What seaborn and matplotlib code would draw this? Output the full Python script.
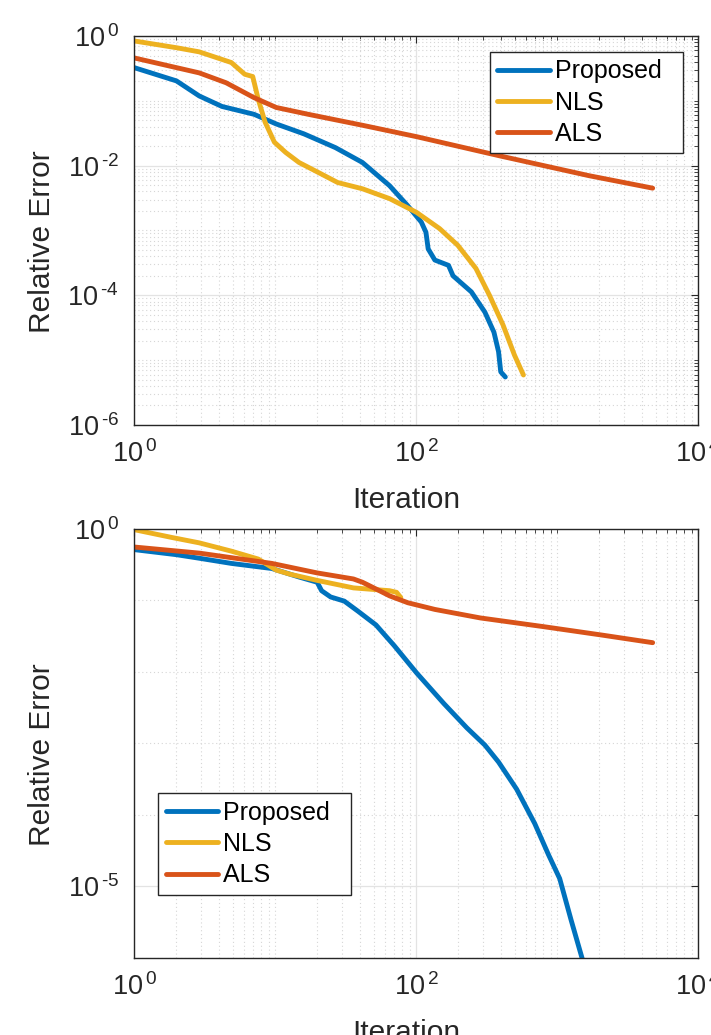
import numpy as np
import pandas as pd
import matplotlib
matplotlib.use("Agg")
import matplotlib.pyplot as plt
import matplotlib.ticker as mticker
import seaborn as sns

# ---------------- data ----------------
methods = ["Proposed", "NLS", "ALS"]
colors = ["#0072BD", "#EDB120", "#D95319"]

# top panel
top_prop_x = [1, 2, 2.9, 4.2, 7.1, 10.2, 16, 26.8, 41.7, 65, 87.5, 109, 117.6, 122, 136, 170, 183, 247, 308, 357, 385, 399, 430]
top_prop_y = [0.326, 0.203, 0.119, 0.082, 0.062, 0.044, 0.031, 0.019, 0.0112, 0.0049, 0.0024, 0.00135, 9.4e-4, 5.2e-4, 3.5e-4, 2.9e-4, 2.0e-4, 1.13e-4, 5.5e-5, 2.7e-5, 1.35e-5, 6.6e-6, 5.5e-6]
top_nls_x = [1, 2, 2.9, 4.9, 6.1, 6.95, 7.6, 8.5, 9.9, 11.9, 14.8, 21.4, 27.8, 41.7, 65, 101, 147, 198, 266, 332, 414, 499, 578]
top_nls_y = [0.84, 0.66, 0.57, 0.39, 0.257, 0.237, 0.106, 0.047, 0.023, 0.016, 0.0112, 0.0074, 0.0055, 0.0044, 0.0031, 0.0019, 0.00107, 5.9e-4, 2.6e-4, 1.0e-4, 3.5e-5, 1.2e-5, 5.9e-6]
top_als_x = [1, 2.9, 4.5, 7.1, 10.2, 17.2, 41.7, 101, 385, 1690, 4770]
top_als_y = [0.46, 0.27, 0.19, 0.112, 0.079, 0.062, 0.042, 0.028, 0.0143, 0.0070, 0.0045]

# bottom panel
bot_prop_x = [1, 2, 2.9, 4.9, 9.5, 14.8, 19.9, 21.4, 24.8, 31, 38.7, 52, 70, 101, 158, 229, 308, 385, 517, 695, 869, 1045, 1259, 1514]
bot_prop_y = [0.515, 0.437, 0.39, 0.33, 0.28, 0.213, 0.18, 0.137, 0.112, 0.098, 0.071, 0.0455, 0.0234, 0.0097, 0.0036, 0.00166, 9.5e-4, 5.5e-4, 2.3e-4, 7.6e-5, 2.8e-5, 1.29e-5, 3.4e-6, 9.6e-7]
bot_nls_x = [1, 1.86, 2.9, 4.9, 7.6, 10.2, 12.8, 19.9, 36, 65, 72.8, 78]
bot_nls_y = [0.98, 0.76, 0.64, 0.49, 0.38, 0.266, 0.233, 0.191, 0.15, 0.137, 0.13, 0.11]
bot_als_x = [1, 2.9, 9.5, 19.9, 36, 41.7, 52, 65, 87.5, 136, 286, 807, 2113, 4770]
bot_als_y = [0.56, 0.46, 0.33, 0.243, 0.20, 0.18, 0.145, 0.116, 0.093, 0.075, 0.057, 0.043, 0.0327, 0.0257]

x_label = "Iteration"
y_label = "Relative Error"
top_yticks = [1e-6, 1e-4, 1e-2, 1e0]
bot_yticks = [1e-5, 1e0]
xticks = [1e0, 1e2, 1e4]


def make_df(xs, ys):
    rows = []
    for m, x, y in zip(methods, xs, ys):
        for xi, yi in zip(x, y):
            rows.append((m, xi, yi))
    return pd.DataFrame(rows, columns=["Method", x_label, y_label])


df_top = make_df([top_prop_x, top_nls_x, top_als_x], [top_prop_y, top_nls_y, top_als_y])
df_bot = make_df([bot_prop_x, bot_nls_x, bot_als_x], [bot_prop_y, bot_nls_y, bot_als_y])

# ---------------- style ----------------
sns.set_style("white")
plt.rcParams["font.family"] = ["Liberation Sans", "DejaVu Sans"]
plt.rcParams["mathtext.fontset"] = "custom"
plt.rcParams["mathtext.rm"] = "Liberation Sans"
plt.rcParams["mathtext.it"] = "Liberation Sans:italic"
plt.rcParams["mathtext.bf"] = "Liberation Sans:bold"

AX_COLOR = "#262626"
LW = 3.5

fig = plt.figure(figsize=(7.11, 10.35), dpi=100)
ax1 = fig.add_axes([0.1885, 0.5894, 0.7932, 0.3758])
ax2 = fig.add_axes([0.1885, 0.0744, 0.7932, 0.4145])


def fmt(v, pos):
    e = int(round(np.log10(v)))
    if e < 0:
        return r"$\mathregular{10^{\,\text{-}%d}}$" % (-e)
    return r"$\mathregular{10^{\,%d}}$" % e


def style_axes(ax, df, yticks, ysubs, legend_loc, legend_anchor):
    sns.lineplot(data=df, x=x_label, y=y_label, hue="Method", hue_order=methods,
                 palette=colors, linewidth=LW, estimator=None, sort=False, ax=ax)
    ax.set_xscale("log")
    ax.set_yscale("log")
    ax.set_xlim(1, 1e4)
    ax.set_ylim(1e-6, 1)
    ax.xaxis.set_major_locator(mticker.FixedLocator(xticks))
    ax.xaxis.set_minor_locator(mticker.LogLocator(base=10, subs=np.arange(1, 10), numticks=50))
    ax.yaxis.set_major_locator(mticker.FixedLocator(yticks))
    ax.yaxis.set_minor_locator(mticker.LogLocator(base=10, subs=ysubs, numticks=50))
    ax.xaxis.set_major_formatter(mticker.FuncFormatter(fmt))
    ax.yaxis.set_major_formatter(mticker.FuncFormatter(fmt))
    ax.xaxis.set_minor_formatter(mticker.NullFormatter())
    ax.yaxis.set_minor_formatter(mticker.NullFormatter())

    ax.grid(True, which="major", color="#e3e3e3", linestyle="-", linewidth=0.9)
    ax.grid(True, which="minor", color="#d6d6d6", linestyle=(0, (1, 2.5)), linewidth=0.8)
    ax.set_axisbelow(True)

    ax.tick_params(which="both", direction="in", top=True, right=True,
                   color=AX_COLOR, labelcolor=AX_COLOR, labelsize=19.5)
    ax.tick_params(which="major", length=5, width=0.8, pad=11)
    ax.tick_params(which="minor", length=2.8, width=0.6)
    for s in ax.spines.values():
        s.set_color(AX_COLOR)
        s.set_linewidth(1.0)

    ax.set_xlabel(x_label, fontsize=21.5, color=AX_COLOR)
    ax.set_ylabel(y_label, fontsize=21.5, color=AX_COLOR)

    handles, labels = ax.get_legend_handles_labels()
    labels = [lab + "  " for lab in labels]
    leg = ax.legend(handles, labels, loc=legend_loc, bbox_to_anchor=legend_anchor,
                    borderaxespad=0, fontsize=18, frameon=True, fancybox=False,
                    framealpha=1, edgecolor=AX_COLOR, handlelength=2.1,
                    handletextpad=0.2, labelspacing=0.29, borderpad=0.3)
    leg.get_frame().set_linewidth(1.0)
    for line in leg.get_lines():
        line.set_linewidth(LW)
    for t in leg.get_texts():
        t.set_color("black")
    return ax


style_axes(ax1, df_top, top_yticks, np.arange(1, 10),
           "upper right", (0.973, 0.959))
style_axes(ax2, df_bot, bot_yticks, (1.0,),
           "lower left", (0.0426, 0.147))

ax1.yaxis.set_label_coords(-0.138, 0.47)
ax2.yaxis.set_label_coords(-0.138, 0.473)
ax1.xaxis.set_label_coords(0.482, -0.158)
ax2.xaxis.set_label_coords(0.482, -0.143)

fig.savefig("out.png", dpi=100)
